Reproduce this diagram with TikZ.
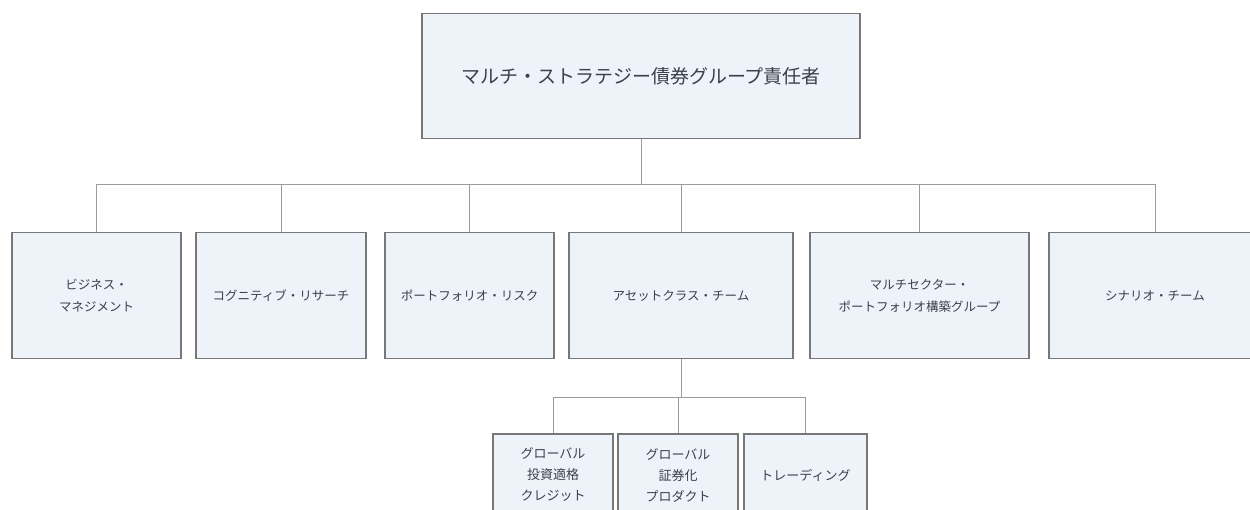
\documentclass[tikz,border=0pt]{standalone}
\usepackage{fontspec}
\setmainfont{Noto Sans CJK JP}
\usepackage{xcolor}
\usetikzlibrary{shapes,arrows}
\definecolor{boxfill}{HTML}{EEF2F9}
\definecolor{boxdraw}{HTML}{777777}
\definecolor{linegray}{HTML}{9C9C9C}
\definecolor{textgray}{HTML}{3C404C}

\begin{document}
\begin{tikzpicture}[x=1pt, y=-1pt]
    \tikzstyle{block} = [rectangle, draw=boxdraw, line width=1.6pt, fill=boxfill,
        text=textgray, align=center, inner sep=0pt]
    \tikzstyle{head} = [block, minimum width=438pt, minimum height=125pt,
        font=\fontsize{19}{24}\selectfont]
    \tikzstyle{unit} = [block, minimum height=126pt,
        font=\fontsize{12.5}{22}\selectfont]
    \tikzstyle{subunit} = [block, minimum width=120pt, minimum height=82pt,
        font=\fontsize{13}{21}\selectfont]
    \tikzstyle{line} = [draw=linegray, line width=1pt]

    \useasboundingbox (0,0) rectangle (1250,510);

    \node [head] (head) at (641,76) {マルチ・ストラテジー債券グループ責任者};

    \node [unit, minimum width=169pt] (business) at (96.5,295.5) {ビジネス・\\マネジメント};
    \node [unit, minimum width=170pt] (cognitive) at (281,295.5) {コグニティブ・リサーチ};
    \node [unit, minimum width=169pt] (risk) at (469.5,295.5) {ポートフォリオ・リスク};
    \node [unit, minimum width=224pt] (asset) at (681,295.5) {アセットクラス・チーム};
    \node [unit, minimum width=219pt] (multi) at (919.5,295.5) {マルチセクター・\\ポートフォリオ構築グループ};
    \node [unit, minimum width=212pt] (scenario) at (1155,295.5) {シナリオ・チーム};

    \node [subunit] (credit) at (553,475) {グローバル\\投資適格\\クレジット};
    \node [subunit] (securitized) at (678,475) {グローバル\\証券化\\プロダクト};
    \node [subunit, minimum width=123pt] (trading) at (805.5,475) {トレーディング};

    \coordinate (hub) at (641,185);
    \coordinate (subhub) at (681,397);

    \path [line] (head.south) -- (hub);
    \foreach \n in {business, cognitive, risk, asset, multi, scenario}
        \path [line] (hub) -| (\n.north);

    \path [line] (asset.south) -- (subhub);
    \foreach \n in {credit, securitized, trading}
        \path [line] (subhub) -| (\n.north);
\end{tikzpicture}
\end{document}
